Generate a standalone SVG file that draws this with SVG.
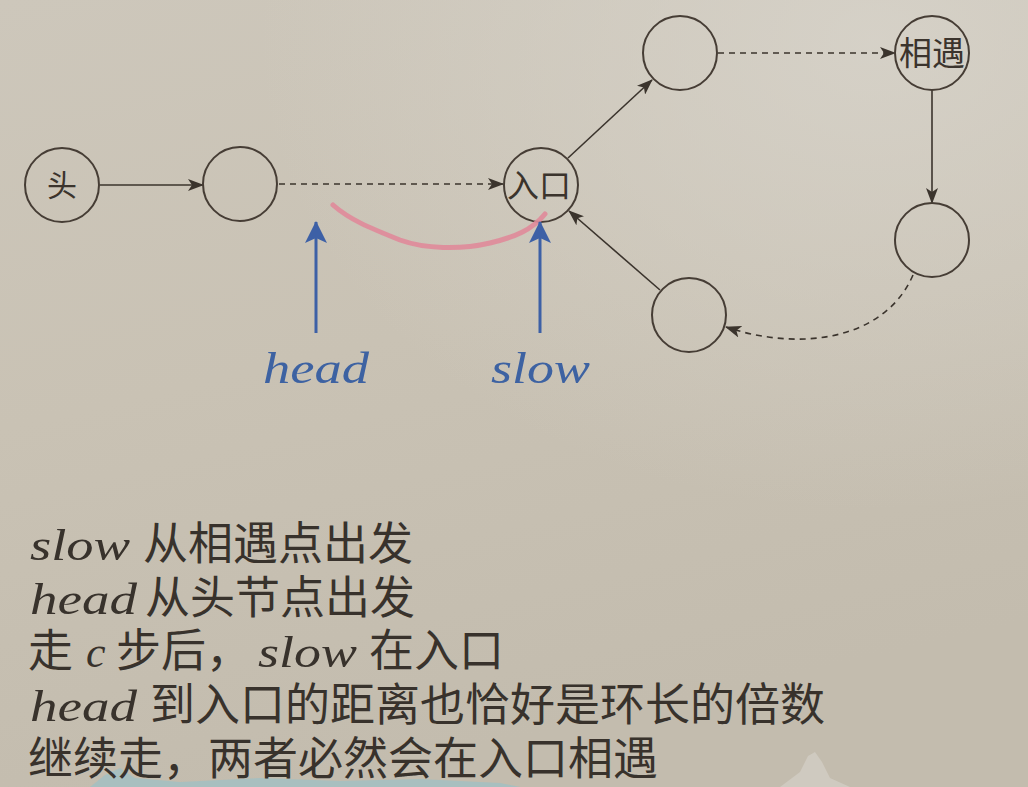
<svg xmlns="http://www.w3.org/2000/svg" width="1028" height="787" viewBox="0 0 1028 787">
<defs>
<linearGradient id="bg" x1="0" y1="0" x2="0.3" y2="1">
<stop offset="0" stop-color="#cdc7bb"/>
<stop offset="0.5" stop-color="#c9c2b4"/>
<stop offset="1" stop-color="#c3bcae"/>
</linearGradient>
<radialGradient id="glow" cx="0.85" cy="0.05" r="0.6">
<stop offset="0" stop-color="#d8d4cb" stop-opacity="0.8"/>
<stop offset="1" stop-color="#d8d4cb" stop-opacity="0"/>
</radialGradient>
<marker id="ah" viewBox="0 0 16 12" refX="15" refY="6" markerWidth="16" markerHeight="12" markerUnits="userSpaceOnUse" orient="auto">
<path d="M0,0 L16,6 L0,12 L4,6 Z" fill="#3b342d"/>
</marker>
<marker id="bh" viewBox="0 0 22 22" refX="21" refY="11" markerWidth="22" markerHeight="22" markerUnits="userSpaceOnUse" orient="auto">
<path d="M0,0 L22,11 L0,22 L5,11 Z" fill="#3d60a6"/>
</marker>
<style>
.node circle{fill:none;stroke:#463d35;stroke-width:2}
.nt{font-family:"Noto Sans CJK SC",sans-serif;fill:#3b342d;text-anchor:middle}
.edge{fill:none;stroke:#3b342d;stroke-width:1.6;marker-end:url(#ah)}
.dash{stroke-dasharray:6 5}
.blue{fill:none;stroke:#3d60a6;stroke-width:3;marker-end:url(#bh)}
.lab{font-family:"Liberation Serif","DejaVu Serif",serif;font-style:italic;fill:#3d62a2;font-size:44px}
.tx{font-family:"Noto Sans CJK SC",sans-serif;font-size:45px;fill:#38322c}
.it{font-family:"Liberation Serif","DejaVu Serif",serif;font-style:italic;font-size:44px;fill:#38322c}
</style>
</defs>
<rect width="1028" height="787" fill="url(#bg)"/>
<rect width="1028" height="787" fill="url(#glow)"/>
<g id="backdrop" opacity="0.75">
<path d="M90,787 L105,775 L120,768 L135,778 L180,782 L260,778 L340,781 L420,779 L500,783 L520,787 Z" fill="#9fc0c4"/>
<path d="M780,787 L800,772 L808,756 L815,752 L822,762 L830,778 L850,787 Z" fill="#d3cfc6"/>
</g>
<g id="connectors">
<line class="edge" x1="100" y1="185" x2="203" y2="185"/>
<line class="edge dash" x1="279" y1="184" x2="503" y2="184"/>
<line class="edge" x1="568" y1="158" x2="652" y2="80"/>
<line class="edge dash" x1="718" y1="53" x2="895" y2="53"/>
<line class="edge" x1="932" y1="90" x2="932" y2="203"/>
<path class="edge dash" d="M913,275 C885,340 800,352 726,327"/>
<line class="edge" x1="660" y1="290" x2="569" y2="211"/>
</g>
<g id="nodes">
<g id="n-head" class="node"><circle cx="62" cy="185" r="37"/><text class="nt" x="62" y="196" font-size="30">头</text></g>
<g id="n-2" class="node"><circle cx="240" cy="184" r="37"/></g>
<g id="n-entry" class="node"><circle cx="541" cy="185" r="37"/><text class="nt" x="539" y="197" font-size="32">入口</text></g>
<g id="n-top" class="node"><circle cx="680" cy="53" r="37"/></g>
<g id="n-meet" class="node"><circle cx="932" cy="53" r="37"/><text class="nt" x="932" y="65" font-size="33">相遇</text></g>
<g id="n-right" class="node"><circle cx="932" cy="240" r="37"/></g>
<g id="n-bottom" class="node"><circle cx="689" cy="315" r="37"/></g>
</g>
<g id="annotations">
<path d="M333,205 C350,220 370,228 400,240 C425,249 460,250 490,243 C515,237 532,230 545,214" fill="none" stroke="#e0899a" stroke-width="5" stroke-linecap="round" opacity="0.9"/>
<line class="blue" x1="316" y1="333" x2="316" y2="222"/>
<line class="blue" x1="540" y1="333" x2="540" y2="222"/>
<text class="lab" x="263" y="383" textLength="106" lengthAdjust="spacingAndGlyphs">head</text>
<text class="lab" x="491" y="383" textLength="99" lengthAdjust="spacingAndGlyphs">slow</text>
</g>
<g id="notes">
<text class="it" x="30" y="560" textLength="100" lengthAdjust="spacingAndGlyphs">slow</text>
<text class="tx" x="143" y="560">从相遇点出发</text>
<text class="it" x="30" y="614" textLength="107" lengthAdjust="spacingAndGlyphs">head</text>
<text class="tx" x="145" y="614">从头节点出发</text>
<text class="tx" x="28" y="667">走</text>
<text class="it" x="86" y="667">c</text>
<text class="tx" x="116" y="667">步后，</text>
<text class="it" x="258" y="667" textLength="99" lengthAdjust="spacingAndGlyphs">slow</text>
<text class="tx" x="369" y="667">在入口</text>
<text class="it" x="30" y="721" textLength="107" lengthAdjust="spacingAndGlyphs">head</text>
<text class="tx" x="150" y="721">到入口的距离也恰好是环长的倍数</text>
<text class="tx" x="28" y="775">继续走，两者必然会在入口相遇</text>
</g>
</svg>
